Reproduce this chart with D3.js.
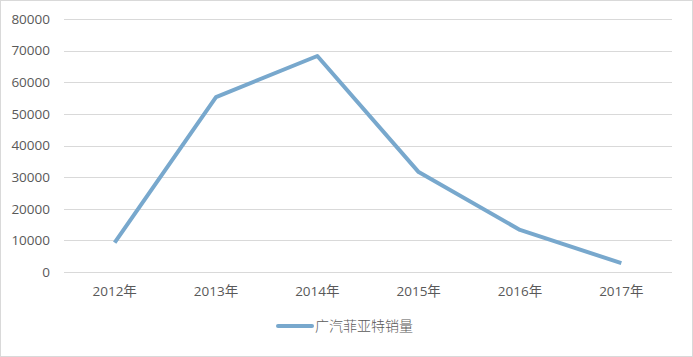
<!DOCTYPE html>
<html>
<head>
<meta charset="utf-8">
<script src="https://cdn.jsdelivr.net/npm/d3@7"></script>
<style>
  body { margin: 0; background: #fff; }
  text { font-family: "Open Sans", "Noto Sans CJK SC", sans-serif; fill: #595959; }
</style>
</head>
<body>
<svg id="chart" width="693" height="357"></svg>
<script>
// data
const years = ['2012年', '2013年', '2014年', '2015年', '2016年', '2017年']
const sales = [9300, 55300, 68300, 31600, 13300, 2800]
const yTicks = [0, 10000, 20000, 30000, 40000, 50000, 60000, 70000, 80000]
const seriesName = '广汽菲亚特销量'

const width = 693, height = 357
const margin = { top: 19, right: 21, bottom: 85, left: 64 }

const svg = d3.select('#chart')

// light frame round the whole chart
svg.append('rect')
  .attr('x', 0.5).attr('y', 0.5)
  .attr('width', width - 1).attr('height', height - 1)
  .attr('fill', 'none').attr('stroke', '#d9d9d9')

const x = d3.scaleBand()
  .domain(years)
  .range([margin.left, width - margin.right])

const y = d3.scaleLinear()
  .domain([0, 80000])
  .range([height - margin.bottom, margin.top])

// gridlines
svg.append('g')
  .selectAll('line')
  .data(yTicks)
  .enter()
  .append('line')
  .attr('x1', margin.left)
  .attr('x2', width - margin.right)
  .attr('y1', d => Math.round(y(d)) + 0.5)
  .attr('y2', d => Math.round(y(d)) + 0.5)
  .attr('stroke', '#d9d9d9')

// y axis labels, no thousands separator
const yAxis = d3.axisLeft(y).tickValues(yTicks).tickFormat(d3.format('d')).tickSize(0).tickPadding(14)
svg.append('g')
  .attr('transform', `translate(${margin.left},0)`)
  .call(yAxis)
  .call(g => g.select('.domain').remove())
  .selectAll('text')
  .style('font-size', '13.5px')
  .style('fill', '#595959')

// x axis labels
const xAxis = d3.axisBottom(x).tickSize(0).tickPadding(14)
svg.append('g')
  .attr('transform', `translate(0,${height - margin.bottom})`)
  .call(xAxis)
  .call(g => g.select('.domain').remove())
  .selectAll('text')
  .style('font-size', '13.5px')
  .style('fill', '#595959')

// the line
const line = d3.line()
  .x((d, i) => x(years[i]) + x.bandwidth() / 2)
  .y(d => y(d))

svg.append('path')
  .datum(sales)
  .attr('d', line)
  .attr('fill', 'none')
  .attr('stroke', '#78a8cd')
  .attr('stroke-width', 4)
  .attr('stroke-linejoin', 'round')

// legend
const legend = svg.append('g').attr('transform', 'translate(278,326)')
legend.append('line')
  .attr('x1', 0).attr('x2', 34)
  .attr('stroke', '#78a8cd')
  .attr('stroke-width', 4)
  .attr('stroke-linecap', 'round')
legend.append('text')
  .attr('x', 37).attr('y', 5)
  .style('font-size', '14px')
  .style('font-family', '"Noto Sans CJK SC", sans-serif')
  .style('font-weight', 300)
  .text(seriesName)
</script>
</body>
</html>
